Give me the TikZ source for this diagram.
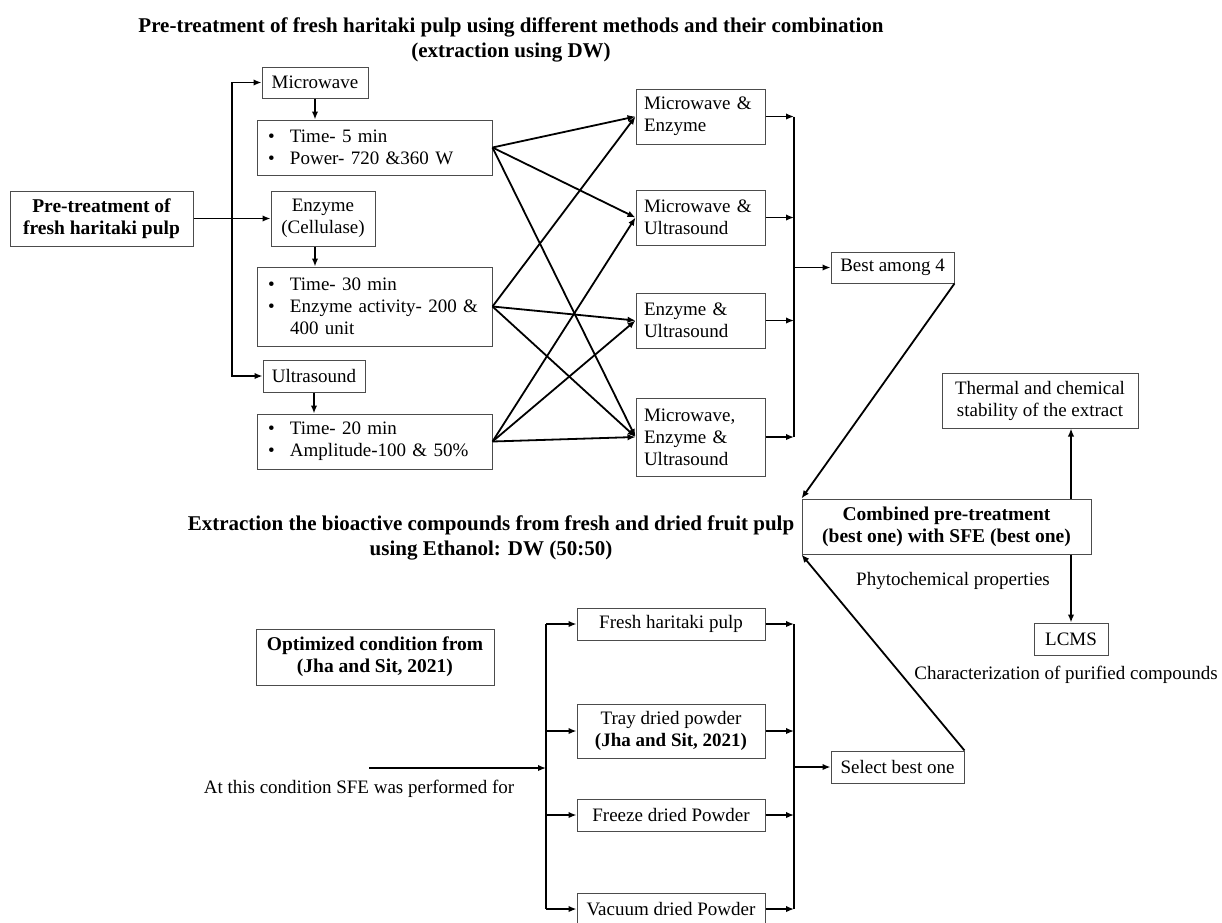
\documentclass[tikz,border=0pt]{standalone}
\usepackage{fontspec}
\setmainfont{Liberation Serif}
\usetikzlibrary{positioning,arrows.meta,calc}
\newcommand{\bul}{\makebox[22pt][l]{\textbullet}}

\begin{document}
\begin{tikzpicture}[x=1pt,y=-1pt,
  font=\fontsize{19}{22}\selectfont,
  box/.style={draw=black!70, line width=1pt, inner sep=0pt, align=center},
  arr/.style={-{Latex[length=8pt,width=6.5pt]}, line width=1.8pt},
  ln/.style={line width=1.8pt},
  heading/.style={font=\fontsize{21}{25}\selectfont\bfseries, align=center}]
\useasboundingbox (0,0) rectangle (1222,922);

% titles
\node[heading] (title1) at (511,39.5) {Pre-treatment of fresh haritaki pulp using different methods and their combination\\(extraction using DW)};
\node[heading] (title2) at (491,537.5) {Extraction the bioactive compounds from fresh and dried fruit pulp\\using Ethanol: DW (50:50)};

% upper part
\node[box, minimum width=183pt, minimum height=55pt, font=\fontsize{19.5}{22}\selectfont\bfseries] (pre) at (101.5,218.5) {Pre-treatment of\\fresh haritaki pulp};
\node[box, minimum width=106pt, minimum height=31pt] (mw) at (315,82.5) {Microwave};
\node[box, minimum width=235pt, minimum height=55pt, text width=213pt, align=left] (mwp) at (374.5,147.5) {\bul Time- 5 min\\\bul Power- 720 \&360 W};
\node[box, minimum width=104pt, minimum height=55pt] (enz) at (323,218.5) {Enzyme\\(Cellulase)};
\node[box, minimum width=235pt, minimum height=79pt, text width=213pt, align=left] (enzp) at (374.5,306.5) {\bul Time- 30 min\\\bul Enzyme activity- 200 \&\\\hspace*{22pt}400 unit};
\node[box, minimum width=102pt, minimum height=32pt] (us) at (314,376) {Ultrasound};
\node[box, minimum width=235pt, minimum height=55pt, text width=213pt, align=left] (usp) at (374.5,441.5) {\bul Time- 20 min\\\bul Amplitude-100 \& 50\%};

\node[box, minimum width=129pt, minimum height=55pt, text width=113pt, align=left] (me) at (700.5,116.5) {Microwave \&\\Enzyme};
\node[box, minimum width=129pt, minimum height=55pt, text width=113pt, align=left] (mu) at (700.5,217.5) {Microwave \&\\Ultrasound};
\node[box, minimum width=129pt, minimum height=55pt, text width=113pt, align=left] (eu) at (700.5,320.5) {Enzyme \&\\Ultrasound};
\node[box, minimum width=129pt, minimum height=78pt, text width=113pt, align=left] (meu) at (700.5,437) {Microwave,\\Enzyme \&\\Ultrasound};
\node[box, minimum width=123pt, minimum height=31pt] (best) at (892.5,267.5) {Best among 4};

\coordinate (trunk) at (232,0);
\coordinate (rcol) at (794,0);
\coordinate (lcol) at (546,0);

\draw[arr] (trunk |- us.west) |- (mw.west);
\draw[arr] (trunk |- mw.west) |- (us.west);
\draw[arr] (pre.east) -- (enz.west);
\draw[arr] (mw.south) -- (mw.south |- mwp.north);
\draw[arr] (enz.south -| mw.south) -- (mw.south |- enzp.north);
\draw[arr] (us.south) -- (us.south |- usp.north);

\foreach \a/\b in {mwp/me, mwp/mu, mwp/meu, enzp/me, enzp/eu, enzp/meu, usp/mu, usp/eu, usp/meu}
  \draw[arr] (\a.east) -- (\b.west);

\foreach \b in {me,mu,eu,meu}
  \draw[arr] (\b.east) -- (\b.east -| rcol);
\draw[ln] (me.east -| rcol) -- (meu.east -| rcol);
\draw[arr] (best.west -| rcol) -- (best.west);

% right part
\node[box, minimum width=289pt, minimum height=55pt, font=\fontsize{19.5}{22}\selectfont\bfseries] (comb) at (946.5,526.5) {Combined pre-treatment\\(best one) with SFE (best one)};
\node[box, minimum width=196pt, minimum height=55pt] (therm) at (1040,400.5) {Thermal and chemical\\stability of the extract};
\node[box, minimum width=74pt, minimum height=32pt] (lcms) at (1071,639) {LCMS};
\node (phyto) at (953,581) {Phytochemical properties};
\node (charac) at (1066,675) {Characterization of purified compounds};

\draw[arr] (best.south east) -- (comb.north west);
\draw[arr] (lcms |- comb.north) -- (lcms |- therm.south);
\draw[arr] (lcms |- comb.south) -- (lcms.north);

% lower part
\node[box, minimum width=238pt, minimum height=56pt, font=\fontsize{19.5}{22}\selectfont\bfseries] (opt) at (375,657) {Optimized condition from\\(Jha and Sit, 2021)};
\node (condtxt) at (359,789) {At this condition SFE was performed for};
\coordinate (cond) at (369,768);

\node[box, minimum width=188pt, minimum height=32pt] (fresh) at (671,624) {Fresh haritaki pulp};
\node[box, minimum width=188pt, minimum height=54pt] (tray) at (671,731) {Tray dried powder\\\textbf{(Jha and Sit, 2021)}};
\node[box, minimum width=188pt, minimum height=32pt] (freeze) at (671,815) {Freeze dried Powder};
\node[box, minimum width=188pt, minimum height=32pt] (vac) at (671,909) {Vacuum dried Powder};
\node[box, minimum width=133pt, minimum height=32pt] (sel) at (897.5,767) {Select best one};

\draw[arr] (cond) -- (cond -| lcol);
\draw[ln] (fresh.west -| lcol) -- (vac.west -| lcol);
\foreach \b in {fresh,tray,freeze,vac} {
  \draw[arr] (\b.west -| lcol) -- (\b.west);
  \draw[arr] (\b.east) -- (\b.east -| rcol);
}
\draw[ln] (fresh.east -| rcol) -- (vac.east -| rcol);
\draw[arr] (sel.west -| rcol) -- (sel.west);
\draw[arr] (sel.north east) -- (comb.south west);
\end{tikzpicture}
\end{document}
